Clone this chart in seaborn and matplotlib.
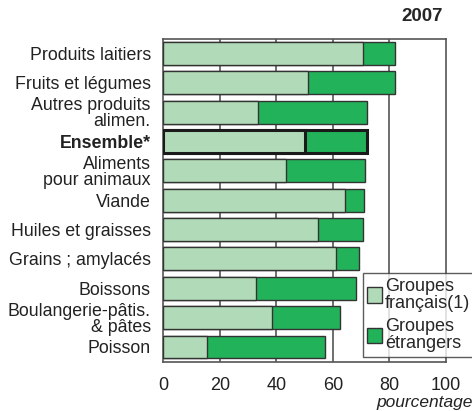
import matplotlib
matplotlib.use("Agg")
import matplotlib.pyplot as plt
import matplotlib.patches as mpatches
import pandas as pd
import seaborn as sns

categories = ["Produits laitiers", "Fruits et légumes", "Autres produits\nalimen.",
              "Ensemble*", "Aliments\npour animaux", "Viande", "Huiles et graisses",
              "Grains ; amylacés", "Boissons", "Boulangerie-pâtis.\n& pâtes", "Poisson"]
francais = [70.5, 51.0, 33.5, 50.1, 43.3, 64.4, 54.6, 61.0, 32.7, 38.3, 15.4]
etrangers = [11.5, 31.0, 38.4, 21.9, 28.0, 6.6, 16.1, 8.2, 35.6, 24.1, 41.8]
xticks = [0, 20, 40, 60, 80, 100]

df = pd.DataFrame({"cat": categories, "fr": francais, "et": etrangers})
df["total"] = df["fr"] + df["et"]

light = "#b1dbb8"
dark = "#22b25a"
edge = "#333333"

sns.set_style("white")
plt.rcParams["font.family"] = ["Liberation Sans", "DejaVu Sans"]

fig = plt.figure(figsize=(4.72, 4.11), dpi=100)
ax = fig.add_axes([0.346, 0.120, 0.599, 0.786])

for x in [20, 40, 60, 80]:
    ax.axvline(x, color="#555555", lw=1.2, zorder=0)

sns.barplot(data=df, x="total", y="cat", color=dark, orient="h", width=0.78,
            edgecolor=edge, linewidth=1, saturation=1, ax=ax, zorder=2)
sns.barplot(data=df, x="fr", y="cat", color=light, orient="h", width=0.78,
            edgecolor=edge, linewidth=1, saturation=1, ax=ax, zorder=3)

# Ensemble bars get a heavy outline
n = len(categories)
for i, p in enumerate(ax.patches):
    if i % n == 3:
        p.set_linewidth(2.2)
        p.set_edgecolor("#1a1a1a")

ax.set_xlim(0, 100)
ax.set_ylim(n - 0.5, -0.5)
ax.set_xticks(xticks)
ax.set_xticklabels([str(t) for t in xticks], fontsize=13, color="#222222")
ax.tick_params(axis="x", length=0, pad=11)
ax.tick_params(axis="y", length=0, pad=9)
ax.set_xlabel("")
ax.set_ylabel("")
for lab in ax.get_yticklabels():
    lab.set_fontsize(12.8)
    lab.set_color("#222222")
    lab.set_linespacing(0.92)
    if lab.get_text().startswith("Ensemble"):
        lab.set_fontweight("bold")

for s in ax.spines.values():
    s.set_color("#555555")
    s.set_linewidth(1.2)

fig.text(0.939, 0.96, "2007", ha="right", va="center", fontsize=13.5,
         fontweight="bold")
fig.text(0.798, 0.02, "pourcentage", ha="left", va="center", fontsize=12.5,
         style="italic", color="#222222")

handles = [mpatches.Patch(facecolor=light, edgecolor=edge, label="Groupes\nfrançais(1)"),
           mpatches.Patch(facecolor=dark, edgecolor=edge, label="Groupes\nétrangers")]
leg = ax.legend(handles=handles, loc="lower left", bbox_to_anchor=(0.705, 0.015),
                fontsize=13, frameon=True, fancybox=False, handlelength=0.85,
                handleheight=0.95, handletextpad=0.15, borderpad=0.25, labelspacing=0.3,
                borderaxespad=0)
leg.get_frame().set_edgecolor("#333333")
leg.get_frame().set_linewidth(1)
leg.set_zorder(5)
for t in leg.get_texts():
    t.set_linespacing(1.05)

fig.savefig("out.png", dpi=100)
